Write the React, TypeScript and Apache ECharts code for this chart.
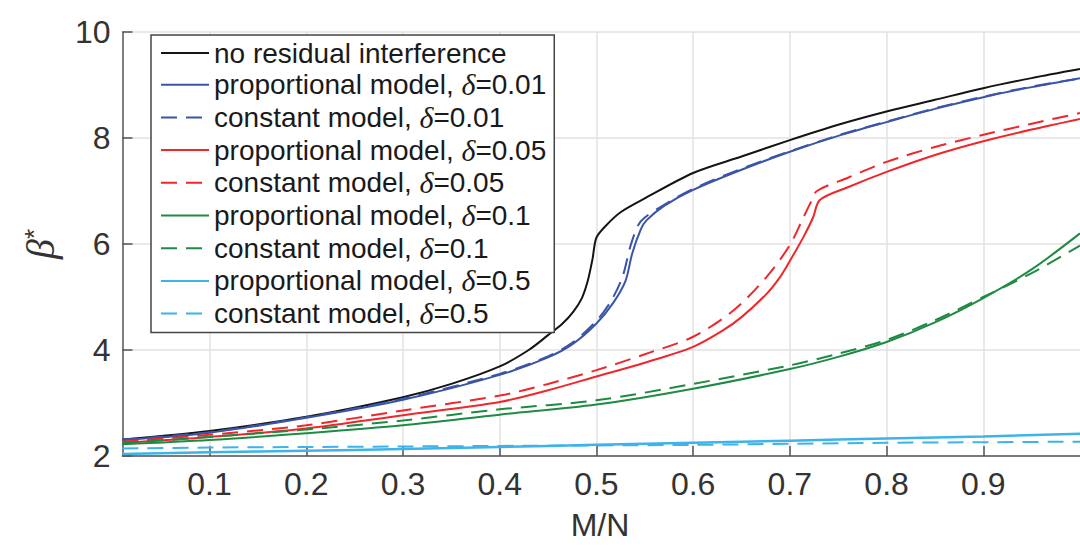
import React, { useEffect, useRef } from "react";
import * as echarts from "echarts";

// ---------- data ----------
const xTickValues = [0.1, 0.2, 0.3, 0.4, 0.5, 0.6, 0.7, 0.8, 0.9];

const noResX = [0.01, 0.1, 0.2, 0.3, 0.35, 0.4, 0.43, 0.45, 0.465, 0.476, 0.485, 0.491, 0.496, 0.5, 0.51, 0.525, 0.55, 0.6, 0.65, 0.7, 0.75, 0.8, 0.85, 0.9, 0.95, 1.0];
const noResY = [2.31, 2.47, 2.74, 3.11, 3.36, 3.69, 4.0, 4.28, 4.5, 4.72, 4.98, 5.3, 5.72, 6.12, 6.35, 6.6, 6.86, 7.34, 7.65, 7.96, 8.25, 8.5, 8.72, 8.94, 9.13, 9.3];

const prop001X = [0.01, 0.1, 0.2, 0.3, 0.4, 0.45, 0.476, 0.5, 0.517, 0.53, 0.537, 0.546, 0.552, 0.57, 0.6, 0.65, 0.7, 0.75, 0.8, 0.85, 0.9, 0.95, 1.0];
const prop001Y = [2.30, 2.44, 2.72, 3.06, 3.53, 3.86, 4.12, 4.5, 4.88, 5.3, 5.82, 6.28, 6.45, 6.72, 7.02, 7.40, 7.74, 8.04, 8.30, 8.55, 8.77, 8.96, 9.13];

const const001X = [0.01, 0.1, 0.2, 0.3, 0.4, 0.45, 0.476, 0.5, 0.515, 0.527, 0.535, 0.543, 0.55, 0.57, 0.6, 0.65, 0.7, 0.75, 0.8, 0.85, 0.9, 0.95, 1.0];
const const001Y = [2.31, 2.45, 2.73, 3.08, 3.55, 3.88, 4.15, 4.55, 4.92, 5.38, 5.95, 6.35, 6.5, 6.74, 7.04, 7.42, 7.75, 8.05, 8.31, 8.56, 8.78, 8.97, 9.12];

const prop005X = [0.01, 0.1, 0.2, 0.3, 0.4, 0.45, 0.5, 0.55, 0.6, 0.63, 0.65, 0.676, 0.69, 0.7, 0.714, 0.724, 0.731, 0.76, 0.8, 0.85, 0.9, 0.95, 1.0];
const prop005Y = [2.25, 2.36, 2.52, 2.77, 3.02, 3.24, 3.5, 3.76, 4.06, 4.36, 4.62, 5.06, 5.38, 5.68, 6.13, 6.5, 6.83, 7.07, 7.36, 7.68, 7.94, 8.16, 8.36];

const const005X = [0.01, 0.1, 0.2, 0.3, 0.4, 0.45, 0.5, 0.55, 0.6, 0.642, 0.676, 0.7, 0.714, 0.722, 0.728, 0.76, 0.8, 0.85, 0.9, 0.95, 1.0];
const const005Y = [2.27, 2.40, 2.58, 2.86, 3.14, 3.36, 3.62, 3.92, 4.25, 4.75, 5.38, 5.98, 6.5, 6.8, 7.0, 7.25, 7.55, 7.83, 8.06, 8.27, 8.47];

const d01X = [0.01, 0.1, 0.2, 0.3, 0.4, 0.5, 0.6, 0.7, 0.75, 0.8, 0.85, 0.9, 0.95, 1.0];
const prop01Y = [2.22, 2.30, 2.43, 2.58, 2.78, 2.97, 3.27, 3.64, 3.87, 4.15, 4.52, 4.98, 5.52, 6.2];
const const01Y = [2.24, 2.36, 2.50, 2.67, 2.88, 3.05, 3.36, 3.71, 3.93, 4.19, 4.56, 5.0, 5.45, 5.97];

const d05X = [0.01, 0.1, 0.2, 0.3, 0.4, 0.5, 0.6, 0.7, 0.8, 0.9, 1.0];
const prop05Y = [2.04, 2.07, 2.10, 2.13, 2.17, 2.21, 2.25, 2.29, 2.33, 2.37, 2.42];
const const05Y = [2.14, 2.16, 2.17, 2.18, 2.19, 2.20, 2.21, 2.23, 2.25, 2.26, 2.27];

const seriesNames = [
  "no residual interference",
  "proportional model, δ=0.01",
  "constant model, δ=0.01",
  "proportional model, δ=0.05",
  "constant model, δ=0.05",
  "proportional model, δ=0.1",
  "constant model, δ=0.1",
  "proportional model, δ=0.5",
  "constant model, δ=0.5",
];

const FONT = '"Liberation Sans", Arial, Helvetica, sans-serif';
const DASH = [16, 9];

function zip(xs: number[], ys: number[]) {
  return xs.map((x, i) => [x, ys[i]]);
}

function mk(name: string, xs: number[], ys: number[], color: string, dashed: boolean, width = 2) {
  return {
    type: "line",
    name,
    data: zip(xs, ys),
    showSymbol: false,
    symbol: "none",
    smooth: 0.3,
    clip: true,
    lineStyle: { color, width, type: dashed ? DASH : "solid" },
    itemStyle: { color },
    emphasis: { disabled: true },
  };
}

export default function App() {
  const ref = useRef<HTMLDivElement>(null);
  useEffect(() => {
    document.body.style.margin = "0";
    const chart = echarts.init(ref.current!, null, { renderer: "svg" });
    const black = "#141414";
    const blue = "#3a54a8";
    const red = "#f0262b";
    const green = "#1f8a43";
    const lblue = "#3db3ea";
    const option: any = {
      animation: false,
      backgroundColor: "#ffffff",
      grid: { left: 122.5, top: 32, width: 971.5, height: 424, containLabel: false },
      xAxis: {
        type: "value",
        min: 0.01,
        max: 1,
        splitNumber: 10,
        axisLine: { show: true, onZero: false, lineStyle: { color: "#555", width: 1.5 } },
        axisTick: { show: true, inside: true, length: 10, customValues: xTickValues, lineStyle: { color: "#555", width: 1.5 } },
        axisLabel: {
          customValues: xTickValues,
          fontSize: 32,
          color: "#333",
          fontFamily: FONT,
          margin: 12,
          formatter: (v: number) => v.toFixed(1),
        },
        splitLine: { show: true, lineStyle: { color: "#e2e2e2", width: 1.5 } },
      },
      yAxis: {
        type: "value",
        min: 2,
        max: 10,
        interval: 2,
        name: "{b|β}{s|*}",
        nameLocation: "middle",
        nameRotate: 90,
        nameGap: 62,
        nameTextStyle: {
          color: "#333",
          rich: {
            b: { fontSize: 40, lineHeight: 40, fontStyle: "italic", fontFamily: '"Liberation Serif", serif', color: "#333", verticalAlign: "bottom" },
            s: { fontSize: 26, lineHeight: 26, fontFamily: FONT, color: "#333", verticalAlign: "top" },
          },
        },
        axisLine: { show: true, lineStyle: { color: "#555", width: 1.5 } },
        axisTick: { show: true, inside: true, length: 10, lineStyle: { color: "#555", width: 1.5 } },
        axisLabel: { fontSize: 32, color: "#333", fontFamily: FONT, margin: 12 },
        splitLine: { show: true, lineStyle: { color: "#e2e2e2", width: 1.5 } },
      },
      legend: {
        show: true,
        orient: "vertical",
        left: 151,
        top: 35,
        padding: [4, 8, 4, 9],
        itemWidth: 48,
        itemHeight: 1,
        itemGap: 2.7,
        selectedMode: false,
        backgroundColor: "#ffffff",
        borderColor: "#444",
        borderWidth: 1.5,
        borderRadius: 0,
        data: seriesNames,
        formatter: (name: string) => name.replace("δ", "{d|δ}"),
        textStyle: {
          fontSize: 28,
          lineHeight: 28,
          color: "#1a1a1a",
          fontFamily: FONT,
          rich: {
            d: { fontSize: 30, lineHeight: 28, fontStyle: "italic", fontFamily: '"Liberation Serif", serif', color: "#1a1a1a" },
          },
        },
      },
      graphic: [
        {
          type: "text",
          x: 600,
          y: 525,
          style: { text: "M/N", font: '32px "Liberation Sans"', fill: "#333", align: "center", verticalAlign: "middle" },
        },
      ],
      series: [
        mk(seriesNames[0], noResX, noResY, black, false),
        mk(seriesNames[1], prop001X, prop001Y, blue, false),
        mk(seriesNames[2], const001X, const001Y, blue, true),
        mk(seriesNames[3], prop005X, prop005Y, red, false),
        mk(seriesNames[4], const005X, const005Y, red, true),
        mk(seriesNames[5], d01X, prop01Y, green, false),
        mk(seriesNames[6], d01X, const01Y, green, true),
        mk(seriesNames[7], d05X, prop05Y, lblue, false, 2.5),
        mk(seriesNames[8], d05X, const05Y, lblue, true),
      ],
    };
    chart.setOption(option);
    return () => chart.dispose();
  }, []);
  return <div ref={ref} style={{ width: 1080, height: 547, background: "#fff" }} />;
}
